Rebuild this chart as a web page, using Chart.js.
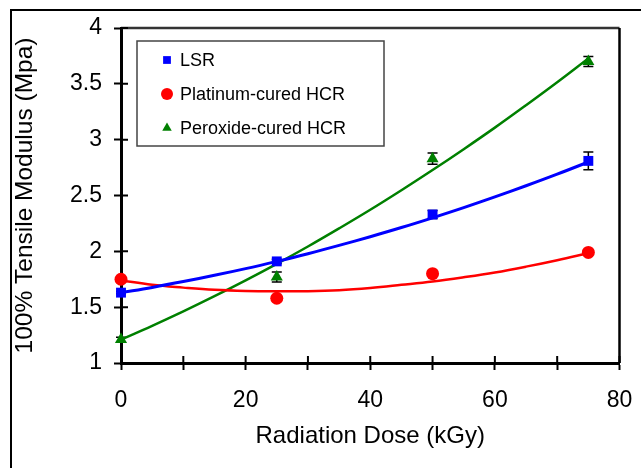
<!DOCTYPE html>
<html>
<head>
<meta charset="utf-8">
<script src="https://cdn.jsdelivr.net/npm/chart.js@4/dist/chart.umd.min.js"></script>
<style>
  html, body { margin: 0; padding: 0; background: #fff; }
  #wrap { width: 641px; height: 468px; }
</style>
</head>
<body>
<div id="wrap"><canvas id="chart" width="641" height="468"></canvas></div>
<script>
// measured points
var doses = [0, 25, 50, 75];
var lsr = [1.63, 1.91, 2.33, 2.81];
var lsrErr = [0.01, 0.02, 0.035, 0.08];
var platinum = [1.75, 1.58, 1.80, 1.99];
var platinumErr = [0.01, 0.02, 0.02, 0.02];
var peroxide = [1.21, 1.77, 2.83, 3.70];
var peroxideErr = [0.02, 0.045, 0.05, 0.045];

// trend lines
var trendDoses = [0, 5, 10, 15, 20, 25, 30, 35, 40, 45, 50, 55, 60, 65, 70, 75];
var lsrTrend = [1.63, 1.677, 1.729, 1.785, 1.845, 1.91, 1.979, 2.053, 2.131, 2.213, 2.30, 2.391, 2.487, 2.587, 2.691, 2.80];
var platinumTrend = [1.74, 1.70, 1.675, 1.655, 1.645, 1.642, 1.643, 1.652, 1.672, 1.70, 1.73, 1.768, 1.811, 1.863, 1.921, 1.985];
var peroxideTrend = [1.21, 1.333, 1.462, 1.598, 1.74, 1.888, 2.043, 2.205, 2.372, 2.547, 2.728, 2.915, 3.108, 3.309, 3.515, 3.728];

var xTicks = [0, 20, 40, 60, 80];
var yTicks = [1, 1.5, 2, 2.5, 3, 3.5, 4];

var FONT = "'Liberation Sans', Arial, sans-serif";

function pts(xs, ys) {
  var out = [];
  for (var i = 0; i < xs.length; i++) out.push({x: xs[i], y: ys[i]});
  return out;
}

var series = [
  {label: 'LSR', values: lsr, err: lsrErr, trend: lsrTrend, color: '#0000ff', style: 'rect', radius: 7, legendRadius: 5.5, width: 3},
  {label: 'Platinum-cured HCR', values: platinum, err: platinumErr, trend: platinumTrend, color: '#ff0000', style: 'circle', radius: 6.5, legendRadius: 6, width: 2.5},
  {label: 'Peroxide-cured HCR', values: peroxide, err: peroxideErr, trend: peroxideTrend, color: '#008000', style: 'triangle', radius: 7, legendRadius: 5.5, width: 2.5}
];

var datasets = [];
series.forEach(function (s) {
  datasets.push({
    label: s.label,
    data: pts(doses, s.values),
    showLine: false,
    clip: false,
    pointStyle: s.style,
    pointRadius: s.radius,
    pointBackgroundColor: s.color,
    pointBorderColor: s.color,
    pointBorderWidth: 0,
    errors: s.err
  });
});
series.forEach(function (s) {
  datasets.push({
    label: s.label + ' trend',
    data: pts(trendDoses, s.trend),
    showLine: true,
    borderColor: s.color,
    borderWidth: s.width,
    pointRadius: 0,
    tension: 0.4,
    fill: false
  });
});

var framePlugin = {
  id: 'frame',
  beforeDraw: function (chart) {
    var ctx = chart.ctx;
    ctx.save();
    ctx.strokeStyle = '#000';
    ctx.lineWidth = 2;
    ctx.beginPath();
    ctx.moveTo(11, 468);
    ctx.lineTo(11, 10);
    ctx.lineTo(641, 10);
    ctx.stroke();
    ctx.restore();
  },
  beforeDatasetsDraw: function (chart) {
    var ctx = chart.ctx, a = chart.chartArea;
    var xs = chart.scales.x, ys = chart.scales.y;
    ctx.save();
    // top and right sides of the plot box
    ctx.lineWidth = 2.5;
    ctx.strokeStyle = '#333';
    ctx.beginPath();
    ctx.moveTo(a.left, a.top);
    ctx.lineTo(a.right, a.top);
    ctx.stroke();
    ctx.strokeStyle = '#000';
    ctx.beginPath();
    ctx.moveTo(a.right, a.top);
    ctx.lineTo(a.right, a.bottom);
    ctx.stroke();
    // inner halves of the crossing ticks
    ctx.lineWidth = 2;
    ctx.beginPath();
    xs.ticks.forEach(function (t) {
      var px = xs.getPixelForValue(t.value);
      ctx.moveTo(px, a.bottom);
      ctx.lineTo(px, a.bottom - 7);
    });
    ys.ticks.forEach(function (t) {
      var py = ys.getPixelForValue(t.value);
      ctx.moveTo(a.left, py);
      ctx.lineTo(a.left + 7, py);
    });
    ctx.stroke();
    // error bars
    ctx.lineWidth = 1.5;
    ctx.strokeStyle = '#000';
    chart.data.datasets.forEach(function (ds) {
      if (!ds.errors) return;
      ds.data.forEach(function (p, i) {
        var e = ds.errors[i];
        var px = xs.getPixelForValue(p.x);
        var hi = ys.getPixelForValue(p.y + e);
        var lo = ys.getPixelForValue(p.y - e);
        ctx.beginPath();
        ctx.moveTo(px, hi); ctx.lineTo(px, lo);
        ctx.moveTo(px - 5, hi); ctx.lineTo(px + 5, hi);
        ctx.moveTo(px - 5, lo); ctx.lineTo(px + 5, lo);
        ctx.stroke();
      });
    });
    ctx.restore();
  },
  afterDraw: function (chart) {
    // legend box inside the plot
    var ctx = chart.ctx;
    var bx = 137, by = 41, bw = 247, bh = 105;
    ctx.save();
    ctx.fillStyle = '#fff';
    ctx.fillRect(bx, by, bw, bh);
    ctx.strokeStyle = '#444';
    ctx.lineWidth = 1.5;
    ctx.strokeRect(bx, by, bw, bh);
    ctx.font = '18px ' + FONT;
    ctx.textBaseline = 'middle';
    ctx.fillStyle = '#000';
    series.forEach(function (s, i) {
      var cy = 60 + i * 34;
      ctx.fillStyle = s.color;
      ctx.strokeStyle = s.color;
      Chart.helpers.drawPoint(ctx, {pointStyle: s.style, radius: s.legendRadius, borderWidth: 0}, 167, cy);
      ctx.fillStyle = '#000';
      ctx.fillText(s.label, 180, cy + 1);
    });
    ctx.restore();
  }
};

new Chart(document.getElementById('chart').getContext('2d'), {
  type: 'scatter',
  data: {datasets: datasets},
  plugins: [framePlugin],
  options: {
    responsive: false,
    devicePixelRatio: 1,
    animation: false,
    layout: {padding: {left: 0, top: 28, right: 21.5, bottom: 0}},
    plugins: {legend: {display: false}, tooltip: {enabled: false}},
    scales: {
      x: {
        type: 'linear',
        min: 0, max: 80,
        afterFit: function (s) { s.height = 105; s.paddingLeft = 0; s.paddingRight = 0; },
        border: {display: true, color: '#000', width: 3},
        grid: {drawOnChartArea: false, drawTicks: true, tickLength: 7, tickWidth: 2, tickColor: '#000'},
        ticks: {
          stepSize: 10, padding: 17, color: '#000', maxRotation: 0,
          font: {family: FONT, size: 23},
          callback: function (v) { return xTicks.indexOf(v) >= 0 ? String(v) : ''; }
        },
        title: {display: true, text: 'Radiation Dose (kGy)', color: '#000', font: {family: FONT, size: 24}, padding: {top: 0, bottom: 17}}
      },
      y: {
        type: 'linear',
        min: 1, max: 4,
        afterFit: function (s) { s.width = 121; s.paddingTop = 0; s.paddingBottom = 0; },
        border: {display: true, color: '#000', width: 3},
        grid: {drawOnChartArea: false, drawTicks: true, tickLength: 7, tickWidth: 2, tickColor: '#000'},
        ticks: {
          stepSize: 0.5, padding: 12, color: '#000',
          font: {family: FONT, size: 23},
          callback: function (v) { return yTicks.indexOf(v) >= 0 ? String(v) : ''; }
        },
        title: {display: true, text: '100% Tensile Modulus (Mpa)', color: '#000', font: {family: FONT, size: 24.5}, padding: {top: 11, bottom: 0}}
      }
    }
  }
});
</script>
</body>
</html>
